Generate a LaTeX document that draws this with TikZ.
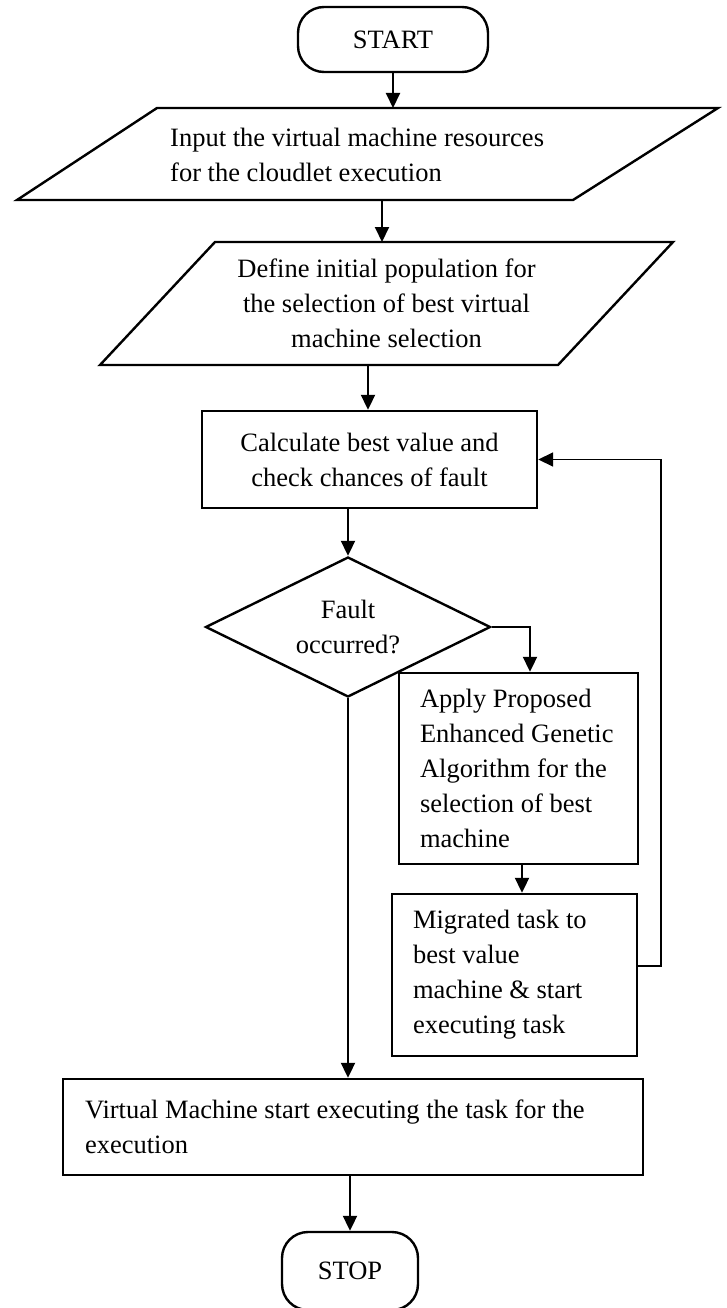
\documentclass[tikz,border=0pt]{standalone}
\usepackage{fontspec}
\setmainfont{Liberation Serif}
\usetikzlibrary{arrows.meta,shapes.geometric}

\begin{document}
\begin{tikzpicture}[
    x=1pt, y=-1pt,
    every node/.style={font=\fontsize{26.5}{35}\selectfont, inner sep=0pt},
    term/.style={draw, line width=2.4pt, rounded corners=26pt, minimum width=190pt, minimum height=65pt},
    proc/.style={draw, line width=2.4pt, rectangle, align=flush left},
    decide/.style={draw, line width=2.4pt, diamond, aspect=2, minimum width=285pt, minimum height=140pt, align=center},
    arr/.style={-{Triangle[length=15pt,width=14pt]}, line width=2pt}
]
\useasboundingbox (0,0) rectangle (726,1308);

\node[term] (start) at (393,39.5) {START};

% the two input parallelograms
\draw[line width=2.4pt] (157,108) -- (718,108) -- (573,200) -- (17,200) -- cycle;
\node[anchor=west, align=flush left] (input) at (170,155) {Input the virtual machine resources\\for the cloudlet execution};
\coordinate (in1n) at (393,108);
\coordinate (in1s) at (382,200);

\draw[line width=2.4pt] (215,242) -- (673,242) -- (558,365) -- (100,365) -- cycle;
\node[align=center] (define) at (386.5,303) {Define initial population for\\the selection of best virtual\\machine selection};
\coordinate (in2n) at (382,242);
\coordinate (in2s) at (368,365);

\node[proc, align=center, minimum width=335pt, minimum height=97pt] (calc) at (369.5,459.5) {Calculate best value and\\check chances of fault};
\node[decide] (fault) at (348,627) {Fault\\occurred?};
\node[proc, text width=197pt, minimum width=239pt, minimum height=191pt] (apply) at (518.5,768.5)
    {Apply Proposed\\Enhanced Genetic\\Algorithm for the\\selection of best\\machine};
\node[proc, text width=203pt, minimum width=245pt, minimum height=162pt] (migrate) at (514.5,975)
    {Migrated task to\\best value\\machine \& start\\executing task};
\node[proc, text width=536pt, minimum width=580pt, minimum height=96pt] (final) at (353,1127)
    {Virtual Machine start executing the task for the\\execution};
\node[term, minimum width=136pt, minimum height=78pt] (stop) at (350,1271) {STOP};

\draw[arr] (start) -- (in1n);
\draw[arr] (in1s) -- (in2n);
\draw[arr] (in2s) -- (calc.north -| in2s);
\draw[arr] (calc.south -| fault.north) -- (fault.north);
\draw[arr] (fault.east) -| ([xshift=11.5pt]apply.north);
\draw[arr] ([xshift=3.5pt]apply.south) -- ([xshift=7.5pt]migrate.north);
% loop back to the fitness check
\draw[arr, line width=1.7pt] ([yshift=9pt]migrate.east) -- ++(23,0) |- (calc.east);
\draw[arr] (fault.south) -- (fault.south |- final.north);
\draw[arr] (final.south -| stop.north) -- (stop.north);
\end{tikzpicture}
\end{document}
